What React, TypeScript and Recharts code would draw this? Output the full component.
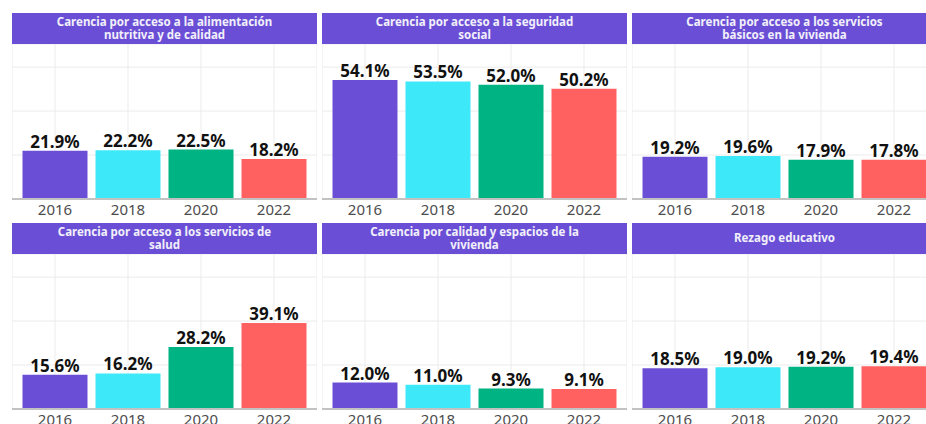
import { BarChart, Bar, XAxis, YAxis, CartesianGrid, Cell, LabelList } from "recharts";

const years = ["2016", "2018", "2020", "2022"];

const alimentacion = [21.9, 22.2, 22.5, 18.2];
const seguridadSocial = [54.1, 53.5, 52.0, 50.2];
const serviciosBasicos = [19.2, 19.6, 17.9, 17.8];
const salud = [15.6, 16.2, 28.2, 39.1];
const calidadVivienda = [12.0, 11.0, 9.3, 9.1];
const rezago = [18.5, 19.0, 19.2, 19.4];

const titles = [
  ["Carencia por acceso a la alimentación", "nutritiva y de calidad"],
  ["Carencia por acceso a la seguridad", "social"],
  ["Carencia por acceso a los servicios", "básicos en la vivienda"],
  ["Carencia por acceso a los servicios de", "salud"],
  ["Carencia por calidad y espacios de la", "vivienda"],
  ["Rezago educativo"],
];

const series = [alimentacion, seguridadSocial, serviciosBasicos, salud, calidadVivienda, rezago];

const colors = ["#6a4fd6", "#3de9f9", "#00b383", "#ff6060"];
const yTicks = [0, 20, 40, 60];

const FONT = "'Noto Sans', sans-serif";

function Facet({ title, values }: { title: string[]; values: number[] }) {
  const data = years.map((year, i) => ({ year, value: values[i] }));
  return (
    <div style={{ width: 305 }}>
      <div
        style={{
          height: 31,
          background: "#6a4fd6",
          color: "#f2f0fa",
          fontFamily: FONT,
          fontWeight: 700,
          fontSize: 11.5,
          lineHeight: "12.5px",
          textAlign: "center",
          display: "flex",
          flexDirection: "column",
          justifyContent: "center",
        }}
      >
        {title.map((t) => (
          <div key={t}>{t}</div>
        ))}
      </div>
      <BarChart
        width={305}
        height={180}
        data={data}
        margin={{ top: 0, right: 0, bottom: 0, left: 0 }}
        barCategoryGap={4}
      >
        <CartesianGrid stroke="#ebebeb" strokeWidth={1} />
        <YAxis hide domain={[0, 70.5]} ticks={yTicks} allowDataOverflow />
        <XAxis
          dataKey="year"
          padding={{ left: 6.5, right: 6.5 }}
          tickLine={false}
          tickSize={3}
          tickMargin={2}
          height={25}
          axisLine={{ stroke: "#c2c2c2", strokeWidth: 2 }}
          tick={{ fontSize: 15, fill: "#4d4d4d", fontFamily: FONT }}
          interval={0}
        />
        <Bar dataKey="value" isAnimationActive={false}>
          {data.map((d, i) => (
            <Cell key={d.year} fill={colors[i]} />
          ))}
          <LabelList
            dataKey="value"
            position="top"
            offset={3}
            formatter={(v: number) => `${v.toFixed(1)}%`}
            style={{ fontSize: 17, fontWeight: 700, fill: "#111111", fontFamily: FONT }}
          />
        </Bar>
      </BarChart>
    </div>
  );
}

export default function App() {
  return (
    <div
      style={{
        position: "fixed",
        left: 0,
        top: 0,
        width: 926,
        height: 424,
        overflow: "hidden",
        background: "#ffffff",
      }}
    >
      {series.map((values, i) => (
        <div
          key={i}
          style={{
            position: "absolute",
            left: 12 + (i % 3) * 310,
            top: 13 + Math.floor(i / 3) * 210,
          }}
        >
          <Facet title={titles[i]} values={values} />
        </div>
      ))}
    </div>
  );
}
